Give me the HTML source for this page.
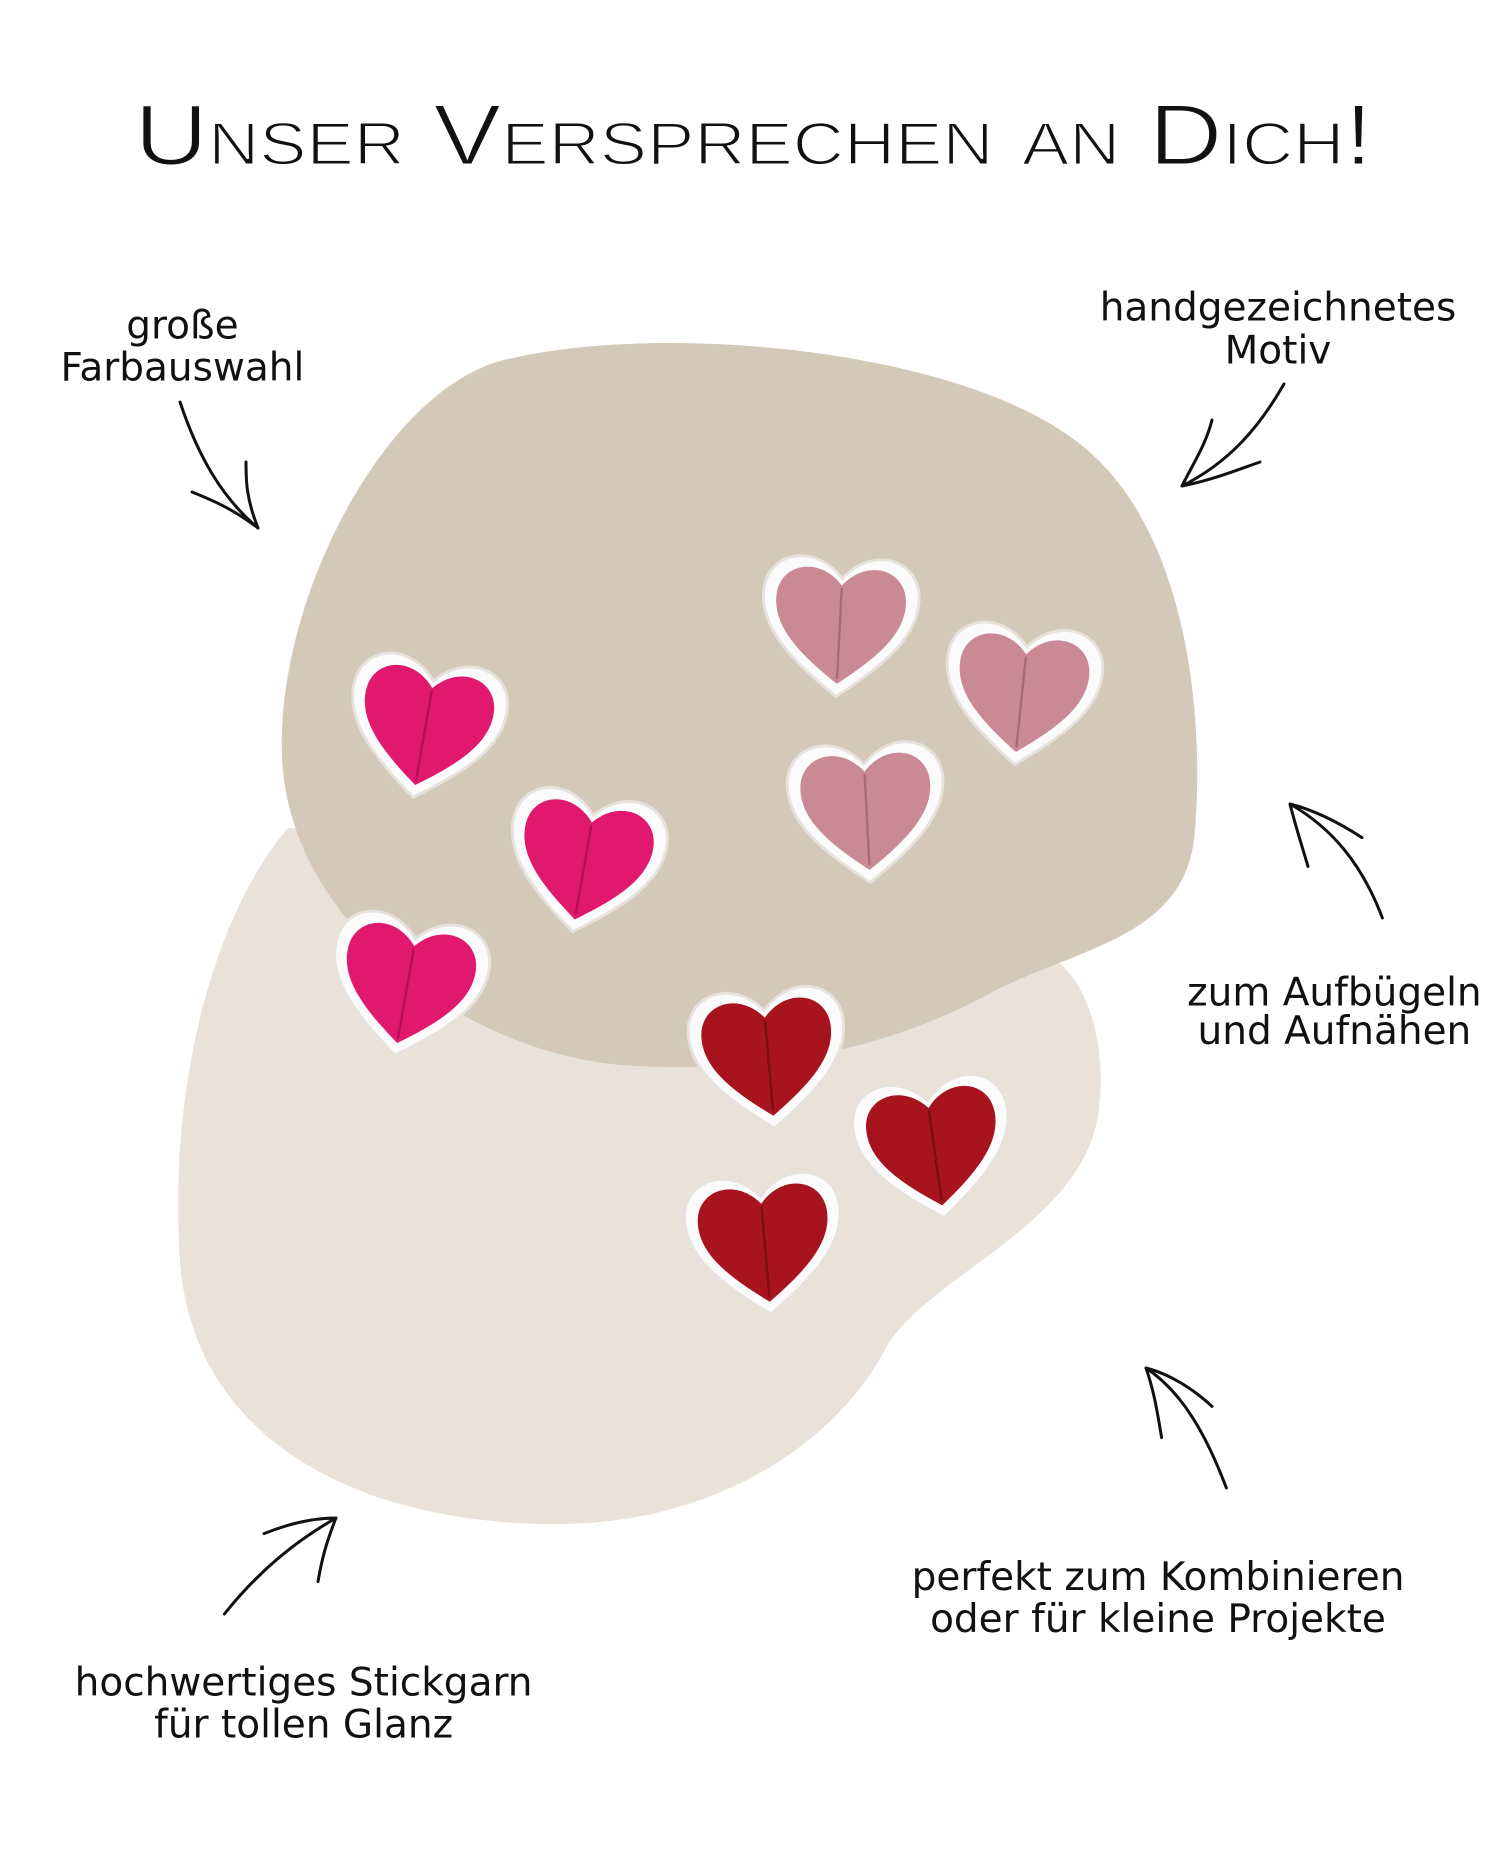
<!DOCTYPE html>
<html><head><meta charset="utf-8"><style>
html,body{margin:0;padding:0;background:#fff;width:1500px;height:1875px;overflow:hidden}
svg{display:block}
</style></head><body>
<svg width="1500" height="1875" viewBox="0 0 1250 1562.5" xmlns="http://www.w3.org/2000/svg">
<defs>
<path id="h" d="M0,52 C-30,30 -56,8 -54,-20 C-52,-46 -20,-54 0,-30 C20,-54 52,-46 54,-20 C56,8 30,30 0,52Z"/>
<g id="hw"><use href="#h" transform="scale(1.2)" fill="#fbfbfb" stroke="#e6e2de" stroke-width="2"/></g>
</defs>
<rect width="1250" height="1562.5" fill="#fff"/>
<text x="112" y="137" font-family="Liberation Sans, sans-serif" font-size="72" style="font-variant:small-caps" textLength="1032" lengthAdjust="spacingAndGlyphs" fill="#111" stroke="#fff" stroke-width="1.6">Unser Versprechen an Dich!</text>
<path d="M240,690 C180,760 140,900 150,1050 C160,1200 300,1272 470,1270 C600,1268 700,1200 740,1120 C780,1060 900,1020 915,930 C925,860 900,800 860,790 L600,700 Z" fill="#e8e2d8"/>
<path d="M420,300 C550,268 800,290 900,370 C990,440 1005,600 995,700 C985,780 900,790 830,825 C750,870 650,895 525,888 C390,880 240,770 235,630 C230,500 320,325 420,300 Z" fill="#d4c8b8"/>
<g font-family="DejaVu Sans, sans-serif" font-size="32.5" fill="#111" text-anchor="middle">
<text x="152" y="282">große</text><text x="152" y="317">Farbauswahl</text>
<text x="1065" y="267">handgezeichnetes</text><text x="1065" y="303">Motiv</text>
<text x="1112" y="838">zum Aufbügeln</text><text x="1112" y="870">und Aufnähen</text>
<text x="965" y="1325">perfekt zum Kombinieren</text><text x="965" y="1360">oder für kleine Projekte</text>
<text x="253" y="1413">hochwertiges Stickgarn</text><text x="253" y="1448">für tollen Glanz</text>
</g>
<g fill="none" stroke="#111" stroke-width="2.5" stroke-linecap="round">
<path d="M150,335 C165,380 185,415 215,440 M215,440 C205,415 205,400 205,385 M215,440 C195,425 180,418 160,410"/>
<path d="M1070,320 C1050,355 1025,385 985,405 M985,405 C1010,400 1030,392 1050,385 M985,405 C995,385 1005,370 1010,350"/>
<path d="M1152,765 C1135,720 1110,690 1075,670 M1075,670 C1080,690 1085,705 1090,722 M1075,670 C1095,675 1115,685 1135,698"/>
<path d="M1022,1240 C1005,1195 985,1160 955,1140 M955,1140 C962,1160 965,1180 968,1198 M955,1140 C975,1145 995,1158 1010,1172"/>
<path d="M187,1345 C215,1310 245,1285 280,1265 M280,1265 C272,1285 268,1300 265,1318 M280,1265 C260,1265 240,1270 220,1278"/>
</g>
<g>
<g transform="translate(355,603) rotate(10)"><use href="#hw"/><use href="#h" fill="#e0186e"/><path d="M0,-28 L0,48" stroke="#b80e58" stroke-width="2"/></g>
<g transform="translate(488,715) rotate(10)"><use href="#hw"/><use href="#h" fill="#e0186e"/><path d="M0,-28 L0,48" stroke="#b80e58" stroke-width="2"/></g>
<g transform="translate(340,818) rotate(10)"><use href="#hw"/><use href="#h" fill="#e0186e"/><path d="M0,-28 L0,48" stroke="#b80e58" stroke-width="2"/></g>
<g transform="translate(700,518) rotate(3)"><use href="#hw"/><use href="#h" fill="#c98a96"/><path d="M0,-28 L0,48" stroke="#a86a78" stroke-width="2"/></g>
<g transform="translate(852,575) rotate(6)"><use href="#hw"/><use href="#h" fill="#c98a96"/><path d="M0,-28 L0,48" stroke="#a86a78" stroke-width="2"/></g>
<g transform="translate(722,673) rotate(-3)"><use href="#hw"/><use href="#h" fill="#c98a96"/><path d="M0,-28 L0,48" stroke="#a86a78" stroke-width="2"/></g>
<g transform="translate(640,878) rotate(-5)"><use href="#hw"/><use href="#h" fill="#a8141e"/><path d="M0,-28 L0,48" stroke="#7e0c14" stroke-width="2"/></g>
<g transform="translate(778,953) rotate(-8)"><use href="#hw"/><use href="#h" fill="#a8141e"/><path d="M0,-28 L0,48" stroke="#7e0c14" stroke-width="2"/></g>
<g transform="translate(637,1033) rotate(-5)"><use href="#hw"/><use href="#h" fill="#a8141e"/><path d="M0,-28 L0,48" stroke="#7e0c14" stroke-width="2"/></g>
</g>
</svg>
</body></html>
